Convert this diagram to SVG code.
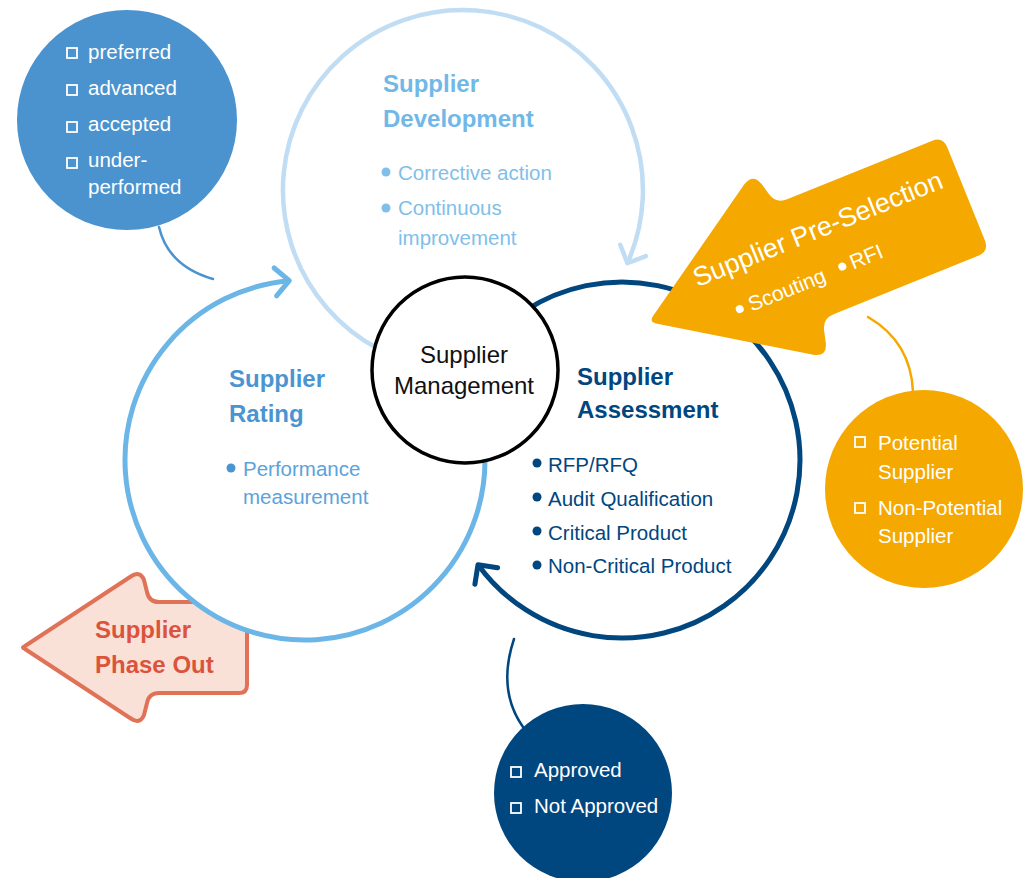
<svg xmlns="http://www.w3.org/2000/svg" width="1034" height="878" viewBox="0 0 1034 878">
<style>
text{font-family:"Liberation Sans",Arial,sans-serif;}
.title{font-size:24px;font-weight:bold;}
.item{font-size:20.5px;}
.sq{fill:none;stroke:#fff;stroke-width:1.8;}
.wt{fill:#fff;}
.conn{fill:none;stroke-width:2.5;stroke-linecap:round;}
</style>
<defs>
<marker id="mDev" markerUnits="userSpaceOnUse" orient="auto" markerWidth="40" markerHeight="40" refX="0" refY="0" viewBox="-20 -20 40 40" overflow="visible">
<path d="M-14,-14 L0,0 L-14,14" fill="none" stroke="#c1ddf3" stroke-width="4.5" stroke-linecap="round" stroke-linejoin="round"/>
</marker>
<marker id="mRat" markerUnits="userSpaceOnUse" orient="auto" markerWidth="40" markerHeight="40" refX="0" refY="0" viewBox="-20 -20 40 40" overflow="visible">
<path d="M-14,-14 L0,0 L-14,14" fill="none" stroke="#6cb6e7" stroke-width="5" stroke-linecap="round" stroke-linejoin="round"/>
</marker>
<marker id="mAss" markerUnits="userSpaceOnUse" orient="auto" markerWidth="40" markerHeight="40" refX="0" refY="0" viewBox="-20 -20 40 40" overflow="visible">
<path d="M-14,-14 L0,0 L-14,14" fill="none" stroke="#00467f" stroke-width="5" stroke-linecap="round" stroke-linejoin="round"/>
</marker>
</defs>

<g id="phase-out">
<path d="M25,646 L130,577 Q140,570 144,580 L147,592 Q149,602 159,602 L239,602 Q247,602 247,610 L247,685 Q247,693 239,693 L159,693 Q149,693 147,703 L144,715 Q140,725 130,718 L25,649 Q21,647.5 25,646 Z" fill="#f9e1d8" stroke="#e07257" stroke-width="4" stroke-linejoin="round"/>
<text class="title" fill="#dc533c" x="95" y="638">Supplier</text>
<text class="title" fill="#dc533c" x="95" y="673">Phase Out</text>
</g>

<g id="supplier-rating">
<circle cx="305" cy="460" r="180" fill="#fff"/>
<path d="M484.75,450.6 A180,180 0 1 1 289.3,280.7" fill="none" stroke="#6cb6e7" stroke-width="5" marker-end="url(#mRat)"/>
<text class="title" fill="#4a95d1" x="229" y="387">Supplier</text>
<text class="title" fill="#4a95d1" x="229" y="422">Rating</text>
<circle cx="231" cy="468" r="4.5" fill="#4a95d1"/>
<text class="item" fill="#5aa3dc" x="243" y="476">Performance</text>
<text class="item" fill="#5aa3dc" x="243" y="504">measurement</text>
</g>

<g id="supplier-development">
<path d="M378.5,349 A180,180 0 1 1 627.4,263.2" fill="none" stroke="#c1ddf3" stroke-width="4.5" marker-end="url(#mDev)"/>
<text class="title" fill="#72b8e7" x="383" y="92">Supplier</text>
<text class="title" fill="#72b8e7" x="383" y="127">Development</text>
<circle cx="386" cy="172" r="4.5" fill="#80bfe9"/>
<circle cx="386" cy="208" r="4.5" fill="#80bfe9"/>
<text class="item" fill="#80bfe9" x="398" y="180">Corrective action</text>
<text class="item" fill="#80bfe9" x="398" y="215">Continuous</text>
<text class="item" fill="#80bfe9" x="398" y="245">improvement</text>
</g>

<g id="supplier-assessment">
<path d="M525.1,310.7 A178,178 0 1 1 478,564.7" fill="none" stroke="#00467f" stroke-width="5" marker-end="url(#mAss)"/>
<text class="title" fill="#00467f" x="577" y="385">Supplier</text>
<text class="title" fill="#00467f" x="577" y="418">Assessment</text>
<g fill="#00467f">
<circle cx="537" cy="463" r="4.5"/>
<circle cx="537" cy="497" r="4.5"/>
<circle cx="537" cy="531" r="4.5"/>
<circle cx="537" cy="565" r="4.5"/>
</g>
<text class="item" fill="#00467f" x="548" y="472">RFP/RFQ</text>
<text class="item" fill="#00467f" x="548" y="506">Audit Qualification</text>
<text class="item" fill="#00467f" x="548" y="540">Critical Product</text>
<text class="item" fill="#00467f" x="548" y="573">Non-Critical Product</text>
</g>

<g id="supplier-management">
<circle cx="465" cy="370" r="93" fill="#fff" stroke="#000" stroke-width="3.5"/>
<text fill="#111" font-size="24" text-anchor="middle" x="464" y="363">Supplier</text>
<text fill="#111" font-size="24" text-anchor="middle" x="464" y="394">Management</text>
</g>

<g id="pre-selection" transform="translate(649,322) rotate(-22)">
<path d="M6,-4 L140,-92 Q152,-99 156,-86 L159,-74 Q162,-62 174,-62 L330,-62 Q342,-62 342,-50 L342,50 Q342,62 330,62 L174,62 Q162,62 159,74 L156,86 Q152,99 140,92 L6,4 Q0,0 6,-4 Z" fill="#f5a800"/>
<text class="wt" font-size="26.8" x="58" y="-14">Supplier Pre-Selection</text>
<circle class="wt" cx="89" cy="22" r="4"/>
<circle class="wt" cx="200" cy="21" r="4"/>
<text class="wt" font-size="21" x="99" y="29">Scouting</text>
<text class="wt" font-size="21" x="209" y="28">RFI</text>
</g>

<g id="connectors">
<path class="conn" d="M159,227 Q168,266 213,279" stroke="#4a93cf"/>
<path class="conn" d="M868,317 Q911,342 913,392" stroke="#f5a800"/>
<path class="conn" d="M514,639 Q497,690 523,727" stroke="#00467f"/>
</g>

<g id="rating-levels">
<circle cx="127" cy="120" r="110" fill="#4a93cf"/>
<rect class="sq" x="67" y="48" width="10" height="10"/>
<rect class="sq" x="67" y="85" width="10" height="10"/>
<rect class="sq" x="67" y="122" width="10" height="10"/>
<rect class="sq" x="67" y="158" width="10" height="10"/>
<text class="item wt" x="88" y="59">preferred</text>
<text class="item wt" x="88" y="95">advanced</text>
<text class="item wt" x="88" y="131">accepted</text>
<text class="item wt" x="88" y="167">under-</text>
<text class="item wt" x="88" y="194">performed</text>
</g>

<g id="pre-selection-result">
<circle cx="924" cy="489" r="99" fill="#f5a800"/>
<rect class="sq" x="855" y="437" width="10" height="10"/>
<rect class="sq" x="855" y="503" width="10" height="10"/>
<text class="item wt" x="878" y="450">Potential</text>
<text class="item wt" x="878" y="479">Supplier</text>
<text class="item wt" x="878" y="515">Non-Potential</text>
<text class="item wt" x="878" y="543">Supplier</text>
</g>

<g id="assessment-result">
<circle cx="583" cy="793" r="89" fill="#00467f"/>
<rect class="sq" x="511" y="767" width="10" height="10"/>
<rect class="sq" x="511" y="803" width="10" height="10"/>
<text class="item wt" x="534" y="777">Approved</text>
<text class="item wt" x="534" y="813">Not Approved</text>
</g>
</svg>
